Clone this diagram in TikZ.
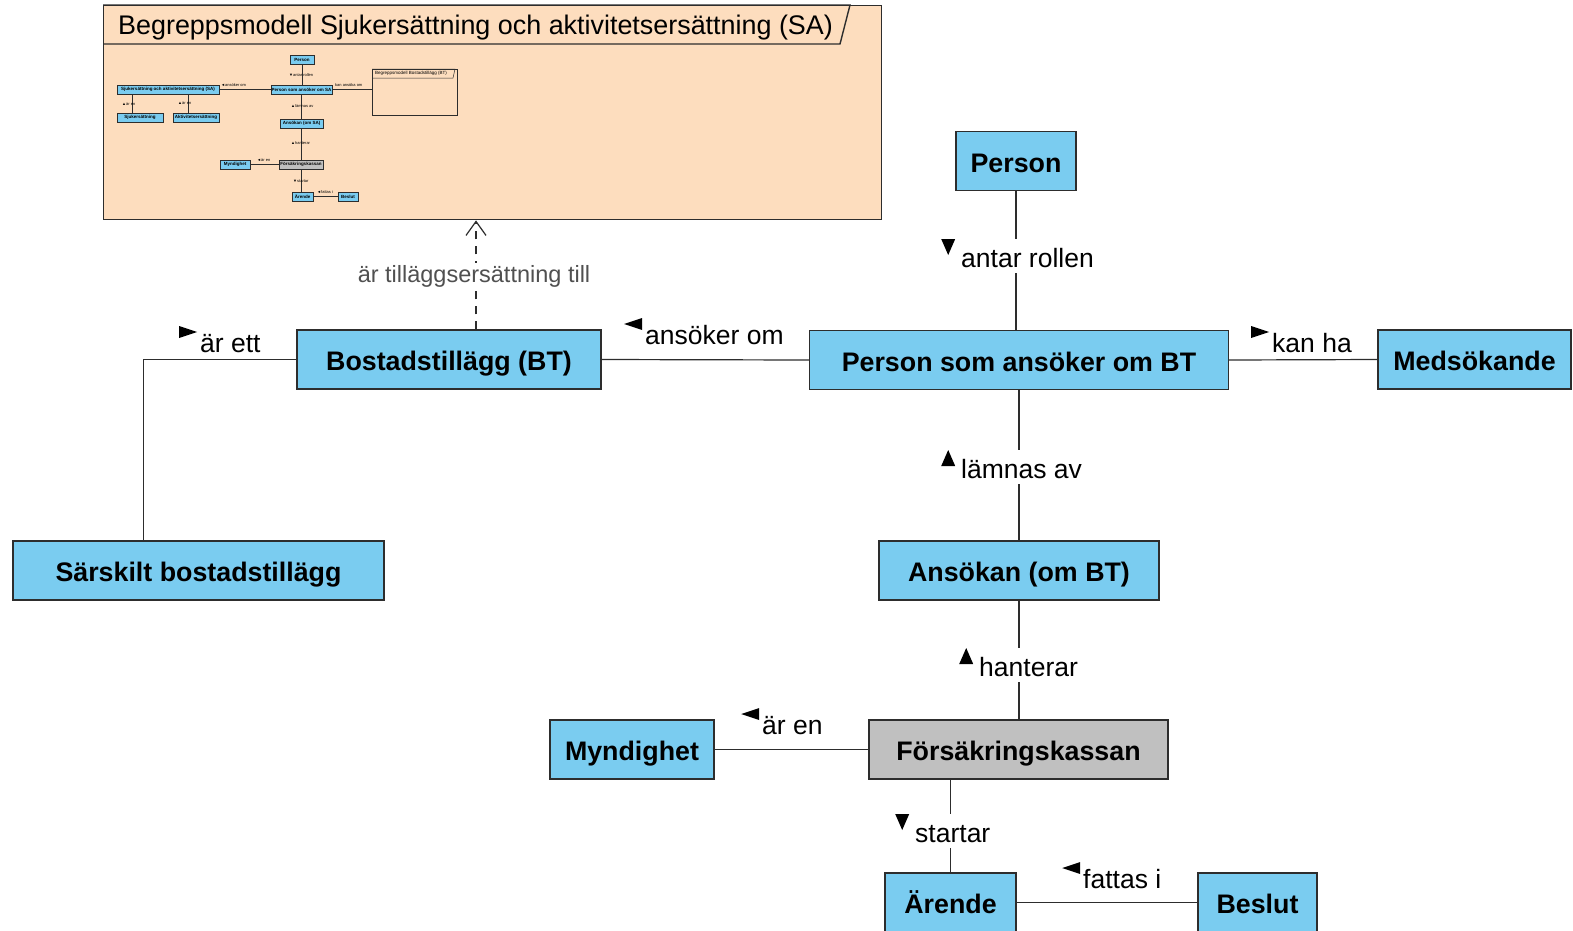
\documentclass[tikz,border=0pt]{standalone}
\usepackage{fontspec}
\setmainfont{Liberation Sans}
\usetikzlibrary{arrows.meta,calc}
\definecolor{clsblue}{RGB}{122,204,240}
\definecolor{pkgfill}{RGB}{253,221,190}
\definecolor{fkgray}{RGB}{192,192,192}
\definecolor{edgec}{RGB}{45,45,45}
\definecolor{lblgray}{RGB}{80,80,80}
\newcommand\trid{\tikz[baseline=0pt]{\path (0pt,0pt); \fill (0pt,28pt) -- (14pt,28pt) -- (7pt,12pt) -- cycle;}\hspace{6pt}}
\newcommand\triu{\tikz[baseline=0pt]{\path (0pt,0pt); \fill (0pt,12pt) -- (14pt,12pt) -- (7pt,28pt) -- cycle;}\hspace{6pt}}
\newcommand\trir{\tikz[baseline=0pt]{\path (0pt,0pt); \fill (0pt,14pt) -- (18pt,20pt) -- (0pt,26pt) -- cycle;}\hspace{3pt}}
\newcommand\tril{\tikz[baseline=0pt]{\path (0pt,0pt); \fill (18pt,14pt) -- (18pt,26pt) -- (0pt,20pt) -- cycle;}\hspace{3pt}}
\begin{document}
\begin{tikzpicture}[x=1pt,y=-1pt,
  cls/.style={draw=edgec, fill=clsblue, line width=1.2pt, inner sep=0pt, minimum height=59pt,
    text height=22pt, text depth=0pt, font=\bfseries\fontsize{26.8}{30}\selectfont},
  conn/.style={draw=edgec, line width=1.2pt},
  lbl/.style={anchor=base west, inner sep=0pt, fill=white, text depth=6pt, font=\fontsize{26.5}{30}\selectfont},
  tcls/.style={draw=edgec, fill=clsblue, line width=0.5pt, inner sep=0pt, minimum height=9pt,
    font=\bfseries\fontsize{4.5}{5}\selectfont},
  tconn/.style={draw=edgec, line width=0.5pt},
  tlbl/.style={anchor=west, inner sep=0pt, font=\fontsize{4}{5}\selectfont}]
\useasboundingbox (0,0) rectangle (1573,930);
\clip (0,0) rectangle (1573,930);
\fill[white] (0,0) rectangle (1573,930);

% package frame
\node[draw=edgec, fill=pkgfill, line width=1.4pt, inner sep=0pt, minimum width=778pt, minimum height=214pt, anchor=north west] (pkg) at (103,5) {};
\draw[draw=edgec, line width=1.4pt] (pkg.north west) -- ++(747,0) -- ++(-10,39) -- ($(pkg.north west)+(0,39)$);
\node[anchor=west, inner sep=0pt, font=\fontsize{26.9}{30}\selectfont] (pkgtitle) at (118,27.5) {Begreppsmodell Sjukersättning och aktivitetsersättning (SA)};

% thumbnail
\node[tcls, minimum width=24pt] (tPerson) at (302,60) {Person};
\node[tcls, minimum width=61pt] (tPSA) at (301.5,89.5) {Person som ansöker om SA};
\node[tcls, minimum width=102pt] (tSA) at (168,89.5) {Sjukersättning och aktivitetsersättning (SA)};
\node[tcls, minimum width=46pt] (tSjuk) at (140,117.5) {Sjukersättning};
\node[tcls, minimum width=46pt] (tAkt) at (196,117.5) {Aktivitetsersättning};
\node[tcls, minimum width=43pt] (tAns) at (301.5,123.5) {Ansökan (om SA)};
\node[tcls, minimum width=30pt] (tMyn) at (235,164.5) {Myndighet};
\node[tcls, minimum width=44pt, fill=fkgray] (tFK) at (301,164.5) {Försäkringskassan};
\node[tcls, minimum width=21pt] (tAr) at (302.5,196.5) {Ärende};
\node[tcls, minimum width=20pt] (tBes) at (348,196.5) {Beslut};
\node[draw=edgec, line width=0.5pt, inner sep=0pt, minimum width=85pt, minimum height=46pt, anchor=north west] (tPkg) at (372,69) {};
\draw[tconn] (tPkg.north west) -- ++(83,0) -- ++(-2,9) -- ($(tPkg.north west)+(0,9)$);
\node[anchor=west, inner sep=0pt, font=\fontsize{4.5}{5}\selectfont] (tPkgTitle) at (375,73.5) {Begreppsmodell Bostadstillägg (BT)};

\draw[tconn] (tPerson.south) -- (tPerson.south |- tPSA.north);
\draw[tconn] (tPSA.south) -- (tPSA.south |- tAns.north);
\draw[tconn] (tAns.south) -- (tAns.south |- tFK.north);
\draw[tconn] (tFK.south) -- (tFK.south |- tAr.north);
\draw[tconn] (tSA.east) -- (tPSA.west);
\draw[tconn] (tPSA.east) -- (tPSA.east -| tPkg.west);
\draw[tconn] ([xshift=-8pt]tSjuk.north |- tSA.south) -- ([xshift=-8pt]tSjuk.north);
\draw[tconn] ([xshift=-8pt]tAkt.north |- tSA.south) -- ([xshift=-8pt]tAkt.north);
\draw[tconn] (tMyn.east) -- (tFK.west);
\draw[tconn] (tAr.east) -- (tBes.west);
\node[tlbl] (tl1) at (289,75) {▼antar rollen};
\node[tlbl] (tl2) at (221,85.5) {◄ansöker om};
\node[tlbl] (tl3) at (335,85.5) {kan ansöka om};
\node[tlbl] (tl4) at (122,104) {▲är en};
\node[tlbl] (tl5) at (178,103) {▲är en};
\node[tlbl] (tl6) at (291,106.5) {▲lämnas av};
\node[tlbl] (tl7) at (291,143.5) {▲hanterar};
\node[tlbl] (tl8) at (257,160.5) {◄är en};
\node[tlbl] (tl9) at (293,181.5) {▼startar};
\node[tlbl] (tl10) at (317,192) {◄fattas i};

% main classes
\node[cls, minimum width=120pt] (Person) at (1016,161) {Person};
\node[cls, minimum width=419pt] (PSABT) at (1019,360) {Person som ansöker om BT};
\node[cls, minimum width=193pt] (Meds) at (1474.5,359.5) {Medsökande};
\node[cls, minimum width=304pt] (BT) at (449,359.5) {Bostadstillägg (BT)};
\node[cls, minimum width=371pt] (Sar) at (198.5,570.5) {Särskilt bostadstillägg};
\node[cls, minimum width=280pt] (Ans) at (1019,570.5) {Ansökan (om BT)};
\node[cls, minimum width=299pt, fill=fkgray] (FK) at (1018.5,749.5) {Försäkringskassan};
\node[cls, minimum width=164pt] (Myn) at (632,749.5) {Myndighet};
\node[cls, minimum width=131pt] (Ar) at (950.5,902.5) {Ärende};
\node[cls, minimum width=119pt] (Bes) at (1257.5,902.5) {Beslut};

% connectors
\draw[conn] (Person.south) -- (Person.south |- PSABT.north);
\draw[conn] (PSABT.east) -- (Meds.west);
\draw[conn] (BT.east) -- (PSABT.west);
\draw[conn] ([xshift=-55pt]Sar.north) |- (BT.west);
\draw[conn] (PSABT.south -| Ans.north) -- (Ans.north);
\draw[conn] (Ans.south) -- (Ans.south |- FK.north);
\draw[conn] (Myn.east) -- (FK.west);
\draw[conn] (Ar.north) -- (Ar.north |- FK.south);
\draw[conn] (Ar.east) -- (Bes.west);
\draw[draw=edgec, line width=1.2pt, dash pattern=on 8pt off 7pt, -{Straight Barb[length=14pt,width=20pt,line width=1.2pt]}]
  ([xshift=27pt]BT.north) -- ([xshift=27pt]BT.north |- pkg.south);

% labels
\node[lbl] (l1) at (941,267) {\trid antar rollen};
\node[lbl] (l2) at (1251,352) {\trir kan ha};
\node[lbl] (l3) at (624,344) {\tril ansöker om};
\node[lbl] (l4) at (179,352) {\trir är ett};
\node[lbl] (l5) at (941,478) {\triu lämnas av};
\node[lbl] (l6) at (959,676) {\triu hanterar};
\node[lbl] (l7) at (741,734) {\tril är en};
\node[lbl] (l8) at (895,842) {\trid startar};
\node[lbl] (l9) at (1062,888) {\tril fattas i};
\node[inner sep=2pt, fill=white, text=lblgray, font=\fontsize{23.5}{28}\selectfont] (ldep) at (474,276) {är tilläggsersättning till};
\end{tikzpicture}
\end{document}
